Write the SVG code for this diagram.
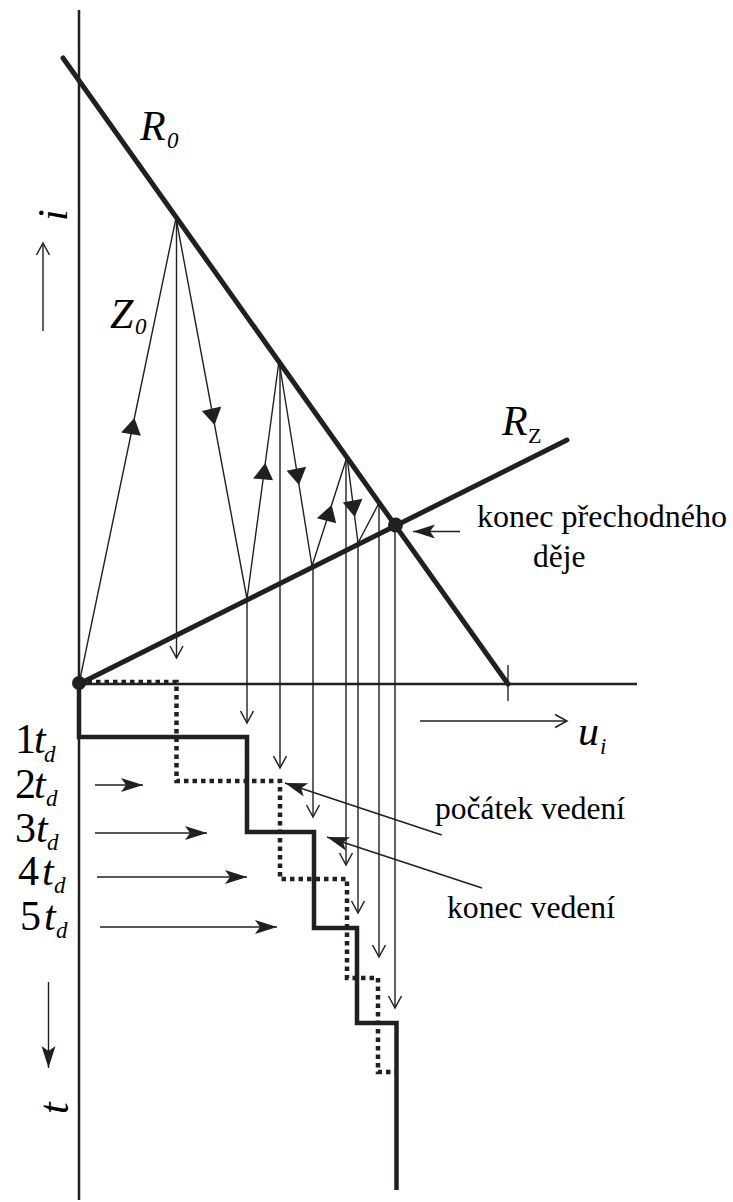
<svg xmlns="http://www.w3.org/2000/svg" width="733" height="1202" viewBox="0 0 733 1202">
<style>
.axis{stroke:#231f20;stroke-width:2.5;fill:none}
.thick{stroke:#231f20;stroke-width:5;fill:none;stroke-linecap:round}
.thin{stroke:#231f20;stroke-width:1.4;fill:none}
.step{stroke:#231f20;stroke-width:4.5;fill:none;stroke-linejoin:miter}
.dot{stroke:#231f20;stroke-width:4.5;fill:none;stroke-dasharray:4.5 4}
.lead{stroke:#231f20;stroke-width:1.6;fill:none}
.big{font-family:"Liberation Serif",serif;font-size:42px;font-style:italic}
.sub{font-family:"Liberation Serif",serif;font-size:23px;font-style:italic}
.lbl{font-family:"Liberation Serif",serif;font-size:31.5px}
.num{font-family:"Liberation Serif",serif;font-size:42px}
.up{font-family:"Liberation Serif",serif;font-size:22px}
</style>
<defs>
<marker id="tri" viewBox="-20 -12 22 24" markerWidth="22" markerHeight="24" refX="0" refY="0" orient="auto" markerUnits="userSpaceOnUse">
<path d="M0,0 L-17,-10 L-16,10 Z" fill="#231f20"/>
</marker>
<marker id="barb" viewBox="-24 -9 26 18" markerWidth="26" markerHeight="18" refX="0" refY="0" orient="auto" markerUnits="userSpaceOnUse">
<path d="M0,0 L-22,-7 L-17,0 L-22,7 Z" fill="#231f20"/>
</marker>
<marker id="open" viewBox="-14 -9 16 18" markerWidth="16" markerHeight="18" refX="0" refY="0" orient="auto" markerUnits="userSpaceOnUse">
<path d="M-12,-6.5 L0,0 L-12,6.5" fill="none" stroke="#231f20" stroke-width="1.5"/>
</marker>
</defs>

<g id="axes">
<line class="axis" x1="79" y1="10" x2="79" y2="1200"/>
<line class="axis" x1="79" y1="684" x2="637" y2="684"/>
<line class="thin" x1="508" y1="665" x2="508" y2="701"/>
</g>

<g id="lines">
<line class="thick" x1="63" y1="58" x2="508" y2="684"/>
<line class="thick" x1="79" y1="684" x2="567" y2="440"/>
</g>

<g id="connectors">
<path class="thin" d="M79,684 L134.4,418 L176,218" marker-mid="url(#tri)"/>
<path class="thin" d="M176,218 L214.6,425 L247,599" marker-mid="url(#tri)"/>
<path class="thin" d="M247,599 L265.3,463 L279,361" marker-mid="url(#tri)"/>
<path class="thin" d="M279,361 L299,485 L312,566" marker-mid="url(#tri)"/>
<path class="thin" d="M312,566 L331.6,505 L347,457" marker-mid="url(#tri)"/>
<path class="thin" d="M347,457 L354.7,517 L358,543" marker-mid="url(#tri)"/>
<path class="thin" d="M358,543 L379,503 L392,523"/>
<line class="thin" x1="176.5" y1="218" x2="176.5" y2="658" marker-end="url(#open)"/>
<line class="thin" x1="247" y1="599" x2="247" y2="723" marker-end="url(#open)"/>
<line class="thin" x1="280" y1="362" x2="280" y2="768" marker-end="url(#open)"/>
<line class="thin" x1="313" y1="566" x2="313" y2="817" marker-end="url(#open)"/>
<line class="thin" x1="346" y1="456" x2="346" y2="865" marker-end="url(#open)"/>
<line class="thin" x1="358" y1="542" x2="358" y2="913" marker-end="url(#open)"/>
<line class="thin" x1="379" y1="502" x2="379" y2="957" marker-end="url(#open)"/>
<line class="thin" x1="395" y1="525" x2="395" y2="1008" marker-end="url(#open)"/>
<path class="step" d="M79,684 V737 H247 V832 H314 V928 H357 V1023 H396.5 V1190"/>
<path class="dot" d="M79,682 H176.5 V781 H280 V879 H347 V978 H378 V1072 H396"/>
<line class="thin" x1="43" y1="331" x2="43" y2="243" marker-end="url(#open)"/>
<line class="thin" x1="48.5" y1="982" x2="48.5" y2="1068" marker-end="url(#barb)"/>
<line class="thin" x1="420" y1="721" x2="567" y2="721" marker-end="url(#open)"/>
<line class="lead" x1="95" y1="785" x2="143" y2="785" marker-end="url(#barb)"/>
<line class="lead" x1="95" y1="833" x2="207" y2="833" marker-end="url(#barb)"/>
<line class="lead" x1="97" y1="877" x2="247" y2="877" marker-end="url(#barb)"/>
<line class="lead" x1="100" y1="927" x2="277" y2="927" marker-end="url(#barb)"/>
<line class="lead" x1="441.7" y1="835" x2="285" y2="783" marker-end="url(#barb)"/>
<line class="lead" x1="482" y1="888" x2="327" y2="837" marker-end="url(#barb)"/>
<line class="lead" x1="460" y1="531.5" x2="413" y2="531.5" marker-end="url(#barb)"/>
</g>

<g id="points">
<circle cx="79" cy="683" r="7" fill="#231f20"/>
<circle cx="395.5" cy="525" r="7.5" fill="#231f20"/>
</g>

<g id="labels" fill="#000">
<text class="big" x="140" y="140">R</text><text class="sub" x="167" y="148">0</text>
<text class="big" x="110" y="328">Z</text><text class="sub" x="135" y="334">0</text>
<text class="big" x="502" y="435">R</text><text class="up" x="528" y="443">Z</text>
<text class="big" x="578" y="745">u</text><text class="sub" x="600" y="754">i</text>
<text class="big" transform="translate(66.5,221) rotate(-90)">i</text>
<text class="big" transform="translate(68,1114) rotate(-90)">t</text>
<text class="num" x="15" y="753">1</text><text class="big" x="34" y="753">t</text><text class="sub" x="44" y="762">d</text>
<text class="num" x="15" y="798">2</text><text class="big" x="34" y="798">t</text><text class="sub" x="46" y="806">d</text>
<text class="num" x="15" y="842">3</text><text class="big" x="36" y="842">t</text><text class="sub" x="47" y="850">d</text>
<text class="num" x="18" y="885">4</text><text class="big" x="42" y="885">t</text><text class="sub" x="54" y="893">d</text>
<text class="num" x="20" y="930">5</text><text class="big" x="44" y="930">t</text><text class="sub" x="56" y="938">d</text>
<text class="lbl" x="477" y="527" textLength="250" lengthAdjust="spacingAndGlyphs">konec přechodného</text>
<text class="lbl" x="533" y="567">děje</text>
<text class="lbl" x="435" y="819" textLength="190" lengthAdjust="spacingAndGlyphs">počátek vedení</text>
<text class="lbl" x="447" y="918" textLength="168" lengthAdjust="spacingAndGlyphs">konec vedení</text>
</g>
</svg>
